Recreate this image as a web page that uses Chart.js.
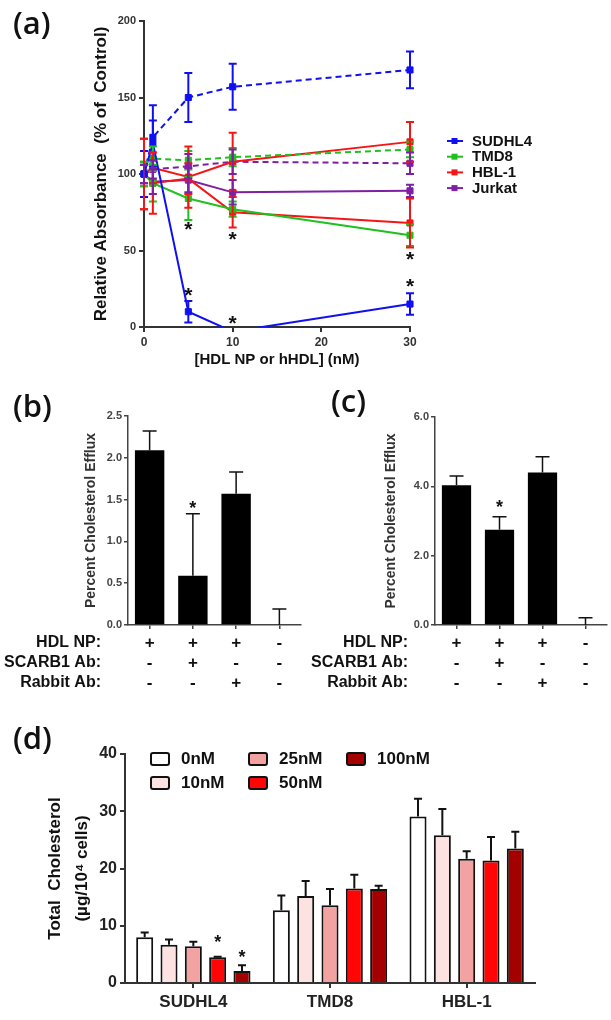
<!DOCTYPE html>
<html><head><meta charset="utf-8">
<script src="https://cdn.jsdelivr.net/npm/chart.js@4/dist/chart.umd.min.js"></script>
<style>
html,body{margin:0;padding:0;background:#fff;}
#wrap{position:relative;width:611px;height:1020px;overflow:hidden;background:#fff;}
canvas{position:absolute;}
.lbl{position:absolute;font-family:'Open Sans',sans-serif;font-size:31px;font-weight:600;color:#111;line-height:1;z-index:2;}
</style></head><body>
<div id="wrap">
<canvas id="ca" width="611" height="372" style="left:0;top:0"></canvas>
<canvas id="cb" width="305" height="330" style="left:0;top:380px"></canvas>
<canvas id="cc" width="306" height="330" style="left:305px;top:380px"></canvas>
<canvas id="cd" width="611" height="305" style="left:0;top:715px"></canvas>
<div class="lbl" style="left:13px;top:7px">(a)</div>
<div class="lbl" style="left:13px;top:390px">(b)</div>
<div class="lbl" style="left:331px;top:385px">(c)</div>
<div class="lbl" style="left:13px;top:722px">(d)</div>
</div>
<script>
// ---------- DATA ----------
// Panel (a)
const doseNM = [0, 1, 5, 10, 30];
const sudhl4NP = [100, 120, 10, -3, 15];
const sudhl4NPErr = [15, 15, 7, 0, 7];
const sudhl4HDL = [100, 124, 150, 157, 168];
const sudhl4HDLErr = [15, 21, 16, 15, 12];
const tmd8NP = [100, 94, 84, 77, 60];
const tmd8NPErr = [8, 12, 14, 5, 7];
const tmd8HDL = [100, 110, 109, 111, 116];
const tmd8HDLErr = [8, 8, 6, 6, 5];
const hbl1Up = [100, 104, 98, 108, 121];
const hbl1UpErr = [23, 10, 20, 19, 13];
const hbl1Down = [100, 94, 97, 75, 68];
const hbl1DownErr = [23, 20, 10, 10, 16];
const jurkatNP = [100, 95, 96, 88, 89];
const jurkatNPErr = [6, 8, 8, 8, 4];
const jurkatHDL = [100, 103, 105, 108, 107];
const jurkatHDLErr = [6, 6, 8, 8, 7];
const cellLines = ['SUDHL4', 'TMD8', 'HBL-1', 'Jurkat'];
const starAX = [5, 10, 30, 30, 5, 10];
const starAY = [66, 60, 47, 29, 23, 5];
const yTicksA = [0, 50, 100, 150, 200];
const xTicksA = [0, 10, 20, 30];

// Panel (b)
const effluxConditions = ['HDL NP', 'HDL NP + SCARB1 Ab', 'HDL NP + Rabbit Ab', 'No HDL NP'];
const hdlNPRow = ['+', '+', '+', '-'];
const scarb1Row = ['-', '+', '-', '-'];
const rabbitRow = ['-', '-', '+', '-'];
const rowLabels = ['HDL NP:', 'SCARB1 Ab:', 'Rabbit Ab:'];
const effluxB = [2.09, 0.59, 1.57, 0];
const effluxBErr = [0.23, 0.74, 0.26, 0.19];
const yTicksB = ['0.0', '0.5', '1.0', '1.5', '2.0', '2.5'];

// Panel (c)
const effluxC = [4.03, 2.75, 4.4, 0];
const effluxCErr = [0.27, 0.37, 0.45, 0.21];
const yTicksC = ['0.0', '2.0', '4.0', '6.0'];

// Panel (d)
const cellLinesD = ['SUDHL4', 'TMD8', 'HBL-1'];
const doseLabels = ['0nM', '10nM', '25nM', '50nM', '100nM'];
const chol0 = [8.0, 12.7, 29.1];
const chol0Err = [0.8, 2.6, 3.1];
const chol10 = [6.7, 15.2, 25.8];
const chol10Err = [0.9, 2.6, 4.6];
const chol25 = [6.4, 13.6, 21.7];
const chol25Err = [0.8, 2.8, 1.3];
const chol50 = [4.5, 16.5, 21.4];
const chol50Err = [0.1, 2.4, 4.1];
const chol100 = [2.1, 16.4, 23.5];
const chol100Err = [1.0, 0.6, 2.9];
const yTicksD = [0, 10, 20, 30, 40];

// ---------- STYLE ----------
const FONT = "'Liberation Sans', Arial, sans-serif";
Chart.defaults.font.family = FONT;
Chart.defaults.color = '#222';
Chart.defaults.animation = false;
const BLUE = '#1010f0', GREEN = '#1fc01f', RED = '#f51515', PURPLE = '#7f1fa3';
const lineColors = [BLUE, GREEN, RED, PURPLE];
const doseColors = ['#ffffff', '#fde2e2', '#f3a2a2', '#ff0505', '#a40000'];

// ---------- PLUGINS ----------
const errorBars = {
  id: 'errorBars',
  afterDatasetsDraw(chart) {
    const ctx = chart.ctx;
    const ca = chart.chartArea;
    ctx.save();
    ctx.beginPath();
    ctx.rect(0, 0, chart.width, ca.bottom);
    ctx.clip();
    chart.data.datasets.forEach((ds, i) => {
      if (!ds.errors) return;
      const meta = chart.getDatasetMeta(i);
      if (meta.hidden) return;
      const ys = chart.scales[meta.yAxisID];
      meta.data.forEach((el, j) => {
        const e = ds.errors[j];
        if (!e) return;
        const raw = ds.data[j];
        const v = (typeof raw === 'object') ? raw.y : raw;
        const x = el.x;
        const yt = ys.getPixelForValue(v + e);
        const yb = ds.errUpOnly ? ys.getPixelForValue(v) : ys.getPixelForValue(v - e);
        const cap = ds.capHalf || 4;
        ctx.strokeStyle = ds.errColor || ds.borderColor;
        ctx.lineWidth = ds.errWidth || 2;
        ctx.setLineDash([]);
        ctx.beginPath();
        ctx.moveTo(x, yb); ctx.lineTo(x, yt);
        ctx.moveTo(x - cap, yt); ctx.lineTo(x + cap, yt);
        if (!ds.errUpOnly) { ctx.moveTo(x - cap, yb); ctx.lineTo(x + cap, yb); }
        ctx.stroke();
      });
    });
    ctx.restore();
  }
};

const starMarks = {
  id: 'starMarks',
  afterDraw(chart, args, opts) {
    if (!opts || !opts.ys) return;
    const ctx = chart.ctx;
    const ys = chart.scales.y;
    ctx.save();
    ctx.fillStyle = '#111';
    ctx.font = 'bold ' + (opts.size || 16) + 'px ' + FONT;
    ctx.textAlign = 'center';
    ctx.textBaseline = 'middle';
    opts.ys.forEach((yv, k) => {
      let x;
      if (opts.ds) x = chart.getDatasetMeta(opts.ds[k]).data[opts.idx[k]].x;
      else x = chart.scales.x.getPixelForValue(opts.xs[k]);
      const y = ys.getPixelForValue(yv);
      ctx.fillText('*', x, y + (opts.size || 16) * 0.22);
    });
    ctx.restore();
  }
};

// ---------- PANEL (a) ----------
function pts(arr) { return doseNM.map((d, i) => ({x: d, y: arr[i]})); }
function lineDs(label, arr, err, color, dashed) {
  return {
    label: label, data: pts(arr), errors: err,
    borderColor: color, backgroundColor: color, borderWidth: 2,
    borderDash: dashed ? [6, 4] : [],
    pointStyle: 'rect', pointRadius: 4.3, pointBorderWidth: 1,
    pointBackgroundColor: color, pointBorderColor: color,
    tension: 0, fill: false, capHalf: 4, errWidth: 2,
    clip: {left: 10, top: 10, right: 10, bottom: 0}
  };
}

const legendA = {
  id: 'legendA',
  afterDraw(chart) {
    const ctx = chart.ctx;
    const ca = chart.chartArea;
    ctx.save();
    ctx.font = 'bold 15px ' + FONT;
    ctx.textBaseline = 'middle';
    ctx.textAlign = 'left';
    cellLines.forEach((name, k) => {
      const y = ca.top + 120 + k * 15.7;
      const x0 = ca.right + 37;
      ctx.strokeStyle = lineColors[k];
      ctx.fillStyle = lineColors[k];
      ctx.lineWidth = 2;
      ctx.beginPath(); ctx.moveTo(x0, y); ctx.lineTo(x0 + 16, y); ctx.stroke();
      ctx.fillRect(x0 + 4.5, y - 3, 6, 6);
      ctx.fillStyle = '#111';
      ctx.fillText(name, x0 + 25, y + 0.5);
    });
    ctx.restore();
  }
};

new Chart(document.getElementById('ca'), {
  type: 'line',
  data: {
    datasets: [
      lineDs('SUDHL4 HDL NP', sudhl4NP, sudhl4NPErr, BLUE, false),
      lineDs('SUDHL4 hHDL', sudhl4HDL, sudhl4HDLErr, BLUE, true),
      lineDs('TMD8 HDL NP', tmd8NP, tmd8NPErr, GREEN, false),
      lineDs('TMD8 hHDL', tmd8HDL, tmd8HDLErr, GREEN, true),
      lineDs('HBL-1 a', hbl1Up, hbl1UpErr, RED, false),
      lineDs('HBL-1 b', hbl1Down, hbl1DownErr, RED, false),
      lineDs('Jurkat HDL NP', jurkatNP, jurkatNPErr, PURPLE, false),
      lineDs('Jurkat hHDL', jurkatHDL, jurkatHDLErr, PURPLE, true)
    ]
  },
  options: {
    responsive: false, devicePixelRatio: 1,
    layout: {padding: {left: 91, top: 21, right: 201, bottom: 0}},
    plugins: {
      legend: {display: false}, tooltip: {enabled: false},
      starMarks: {xs: starAX, ys: starAY, size: 21}
    },
    scales: {
      x: {
        type: 'linear', min: 0, max: 30,
        afterBuildTicks: s => { s.ticks = xTicksA.map(v => ({value: v})); },
        ticks: {font: {size: 12, weight: 'bold'}, color: '#333', padding: 3},
        grid: {drawOnChartArea: false, drawTicks: true, tickLength: 5, color: '#333', lineWidth: 2},
        border: {display: true, color: '#333', width: 2},
        title: {display: true, text: '[HDL NP or hHDL] (nM)', font: {size: 15, weight: 'bold'}, color: '#111', padding: {top: 0, bottom: 3}},
        afterFit: s => { s.height = 45; }
      },
      y: {
        min: 0, max: 200,
        afterBuildTicks: s => { s.ticks = yTicksA.map(v => ({value: v})); },
        ticks: {font: {size: 11, weight: 'bold'}, color: '#333', padding: 3},
        grid: {drawOnChartArea: false, drawTicks: true, tickLength: 5, color: '#333', lineWidth: 2},
        border: {display: true, color: '#333', width: 2},
        title: {display: true, text: 'Relative Absorbance  (% of  Control)', font: {size: 17, weight: 'bold'}, color: '#111', padding: 0},
        afterFit: s => { s.width = 53; }
      }
    }
  },
  plugins: [errorBars, starMarks, legendA]
});

// ---------- PANELS (b) & (c) ----------
const tablePlugin = {
  id: 'condTable',
  afterDraw(chart) {
    const ctx = chart.ctx;
    const ca = chart.chartArea;
    const xs = chart.scales.x;
    const rows = [hdlNPRow, scarb1Row, rabbitRow];
    ctx.save();
    ctx.fillStyle = '#111';
    ctx.font = 'bold 16px ' + FONT;
    ctx.textBaseline = 'middle';
    rows.forEach((row, r) => {
      const y = ca.bottom + 18 + r * 20;
      ctx.textAlign = 'right';
      ctx.fillText(rowLabels[r], ca.left - 27, y);
      ctx.textAlign = 'center';
      ctx.font = 'bold 17px ' + FONT;
      row.forEach((s, i) => {
        ctx.fillText(s, xs.getPixelForValue(i), y);
      });
      ctx.font = 'bold 16px ' + FONT;
    });
    ctx.restore();
  }
};

function effluxChart(id, vals, errs, max, tickLabels, padLeft, yWidth, padTop, starY) {
  const step = max / (tickLabels.length - 1);
  return new Chart(document.getElementById(id), {
    type: 'bar',
    data: {
      labels: effluxConditions,
      datasets: [{
        label: 'Percent Cholesterol Efflux', data: vals, errors: errs, errUpOnly: true,
        backgroundColor: '#000', borderColor: '#000', borderWidth: 0,
        barPercentage: 0.68, categoryPercentage: 1.0,
        errColor: '#111', errWidth: 1.5, capHalf: 7
      }]
    },
    options: {
      responsive: false, devicePixelRatio: 1,
      layout: {padding: {left: padLeft, top: padTop, right: 4, bottom: 0}},
      plugins: {
        legend: {display: false}, tooltip: {enabled: false},
        starMarks: {ds: [0], idx: [1], ys: [starY], size: 18}
      },
      scales: {
        x: {
          ticks: {display: false},
          grid: {offset: false, drawOnChartArea: false, drawTicks: true, tickLength: 4, color: '#444', lineWidth: 1.5},
          border: {display: true, color: '#444', width: 1.5},
          afterFit: s => { s.height = 85; }
        },
        y: {
          min: 0, max: max,
          afterBuildTicks: s => { s.ticks = tickLabels.map((t, i) => ({value: i * step})); },
          ticks: {font: {size: 11, weight: 'bold'}, color: '#444', padding: 2,
            callback: (v, i) => tickLabels[i]},
          grid: {drawOnChartArea: false, drawTicks: true, tickLength: 4, color: '#444', lineWidth: 1.5},
          border: {display: true, color: '#444', width: 1.5},
          title: {display: true, text: 'Percent Cholesterol Efflux', font: {size: 14, weight: 'bold'}, color: '#333', padding: 0},
          afterFit: s => { s.width = yWidth; }
        }
      }
    },
    plugins: [errorBars, starMarks, tablePlugin]
  });
}
effluxChart('cb', effluxB, effluxBErr, 2.5, yTicksB, 83, 45, 36, 1.43);
effluxChart('cc', effluxC, effluxCErr, 6.0, yTicksC, 78, 52, 37, 3.5);

// ---------- PANEL (d) ----------
const legendD = {
  id: 'legendD',
  afterDraw(chart) {
    const ctx = chart.ctx;
    const ca = chart.chartArea;
    ctx.save();
    ctx.font = 'bold 17px ' + FONT;
    ctx.textBaseline = 'middle';
    ctx.textAlign = 'left';
    chart.data.datasets.forEach((ds, k) => {
      const col = Math.floor(k / 2), row = k % 2;
      const bx = ca.left + 26 + col * 98;
      const by = ca.top + 5 + row * 24;
      ctx.fillStyle = ds.backgroundColor;
      ctx.strokeStyle = '#111';
      ctx.lineWidth = 2;
      ctx.beginPath();
      if (ctx.roundRect) ctx.roundRect(bx, by - 6, 18, 12, 2); else ctx.rect(bx, by - 6, 18, 12);
      ctx.fill(); ctx.stroke();
      ctx.fillStyle = '#111';
      ctx.fillText(ds.label, bx + 30, by + 0.5);
    });
    ctx.restore();
  }
};

const cholSeries = [chol0, chol10, chol25, chol50, chol100];
const cholErrs = [chol0Err, chol10Err, chol25Err, chol50Err, chol100Err];
new Chart(document.getElementById('cd'), {
  type: 'bar',
  data: {
    labels: cellLinesD,
    datasets: doseLabels.map((lab, k) => ({
      label: lab, data: cholSeries[k], errors: cholErrs[k], errUpOnly: true,
      backgroundColor: doseColors[k], borderColor: '#111', borderWidth: 2,
      borderSkipped: 'bottom',
      barPercentage: 0.7, categoryPercentage: 0.89,
      errColor: '#111', errWidth: 2, capHalf: 4
    }))
  },
  options: {
    responsive: false, devicePixelRatio: 1,
    layout: {padding: {left: 42, top: 39, right: 76, bottom: 0}},
    plugins: {
      legend: {display: false}, tooltip: {enabled: false},
      starMarks: {ds: [3, 4], idx: [0, 0], ys: [7.7, 5.1], size: 18}
    },
    scales: {
      x: {
        ticks: {font: {size: 17, weight: 'bold'}, color: '#222', padding: 4},
        grid: {offset: false, drawOnChartArea: false, drawTicks: true, tickLength: 5, color: '#333', lineWidth: 2},
        border: {display: true, color: '#333', width: 2},
        afterFit: s => { s.height = 37; }
      },
      y: {
        min: 0, max: 40,
        afterBuildTicks: s => { s.ticks = yTicksD.map(v => ({value: v})); },
        ticks: {font: {size: 16, weight: 'bold'}, color: '#222', padding: 3},
        grid: {drawOnChartArea: false, drawTicks: true, tickLength: 5, color: '#333', lineWidth: 2},
        border: {display: true, color: '#333', width: 2},
        title: {display: true, text: ['Total  Cholesterol', '(\u00b5g/10\u2074 cells)'], font: {size: 17, weight: 'bold', lineHeight: 1.6}, color: '#111', padding: 0},
        afterFit: s => { s.width = 83; }
      }
    }
  },
  plugins: [errorBars, starMarks, legendD]
});
</script>
</body></html>
